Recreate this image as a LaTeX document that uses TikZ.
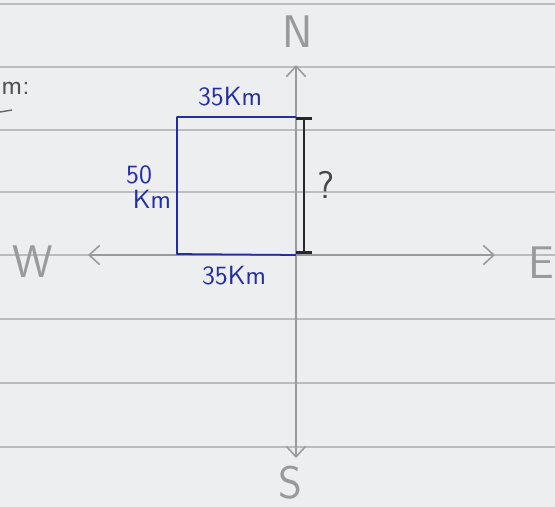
\documentclass[tikz,border=0pt]{standalone}
\usepackage{tikz}
\usetikzlibrary{arrows.meta,positioning}
\definecolor{paper}{RGB}{236,238,240}
\definecolor{ruled}{RGB}{186,188,190}
\definecolor{pencil}{RGB}{152,154,157}
\definecolor{penblue}{RGB}{35,45,165}
\definecolor{inkblack}{RGB}{40,40,42}

\begin{document}
\begin{tikzpicture}[x=0.02cm,y=-0.02cm,
  compass/.style={text=pencil,font=\sffamily\fontsize{26}{28}\selectfont,inner sep=0pt},
  dist/.style={text=penblue,font=\sffamily\fontsize{15}{16}\selectfont,inner sep=0pt},
  axis/.style={draw=pencil,line width=0.9pt,-{Straight Barb[length=6pt,width=11pt]}}]
\useasboundingbox (0,0) rectangle (555,507);
\fill[paper] (0,0) rectangle (555,507);
% ruled paper
\foreach \y in {4,67,130,192,255,319,383,447}
  \draw[ruled,line width=0.6pt] (0,\y) -- (555,\y);
% compass
\coordinate (O) at (296,255);
\coordinate (Ntip) at (296,65);
\coordinate (Stip) at (296,458);
\coordinate (Wtip) at (88,255);
\coordinate (Etip) at (495,255);
\node[compass] (N) at (298,32) {N};
\node[compass] (S) at (290,483) {S};
\node[compass] (W) at (33,262) {W};
\node[compass] (E) at (541,263) {E};
\draw[axis] (O) -- (Ntip);
\draw[axis] (O) -- (Stip);
\draw[axis] (O) -- (Wtip);
\draw[axis] (O) -- (Etip);
% path walked
\coordinate (sw) at (177,254);
\coordinate (nw) at (177,117);
\coordinate (ne) at (296,117);
\draw[penblue,line width=1pt,line join=round] (O) -- (sw) -- (nw) -- (ne);
\node[dist] (top) at (230,97) {35Km};
\node[dist] (bot) at (234,276) {35Km};
\node[dist] (fifty) at (139,175) {50};
\node[dist] (km) at (152,199) {Km};
% unknown distance
\coordinate (qt) at (304,117);
\coordinate (qb) at (304,254);
\draw[inkblack,line width=1.6pt,{Bar[width=9pt]}-{Bar[width=9pt]}] (qb) -- (qt);
\node[text=inkblack!85,font=\sffamily\fontsize{22}{24}\selectfont] (q) at (326,185) {?};
% note at the edge
\node[text=inkblack!80,font=\sffamily\fontsize{16}{18}\selectfont,anchor=west,inner sep=0pt] (frag) at (1,88) {m:};
\draw[inkblack!70,line width=0.8pt] (0,112) -- (12,110);
\end{tikzpicture}
\end{document}
